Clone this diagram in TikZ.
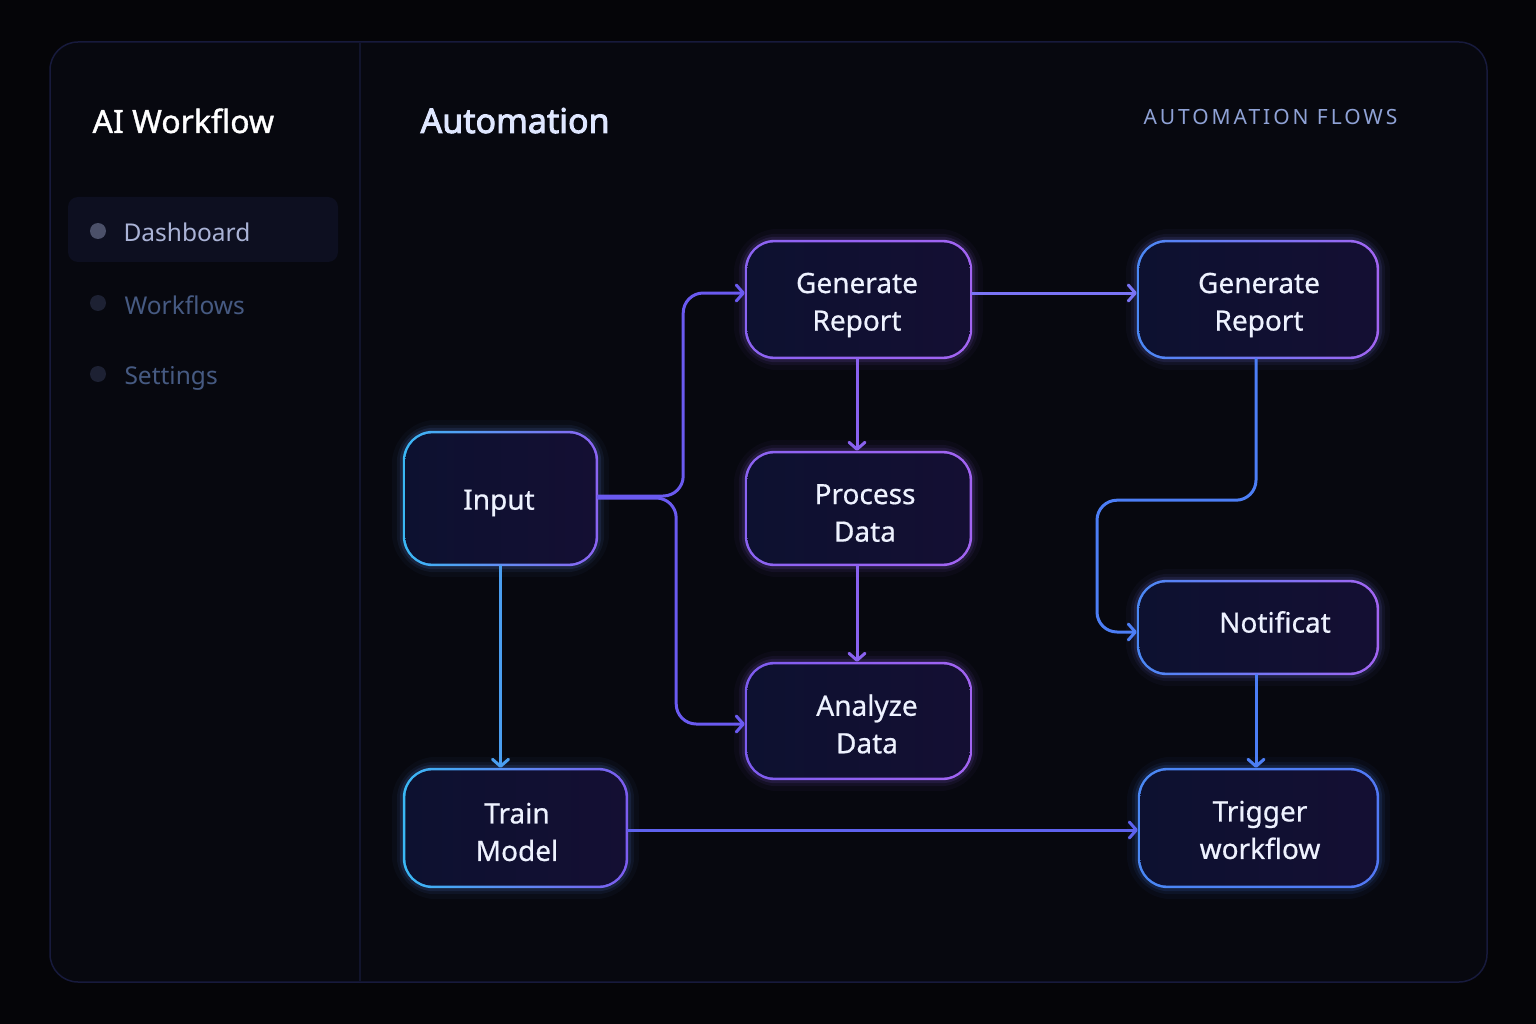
\documentclass[tikz,border=0pt]{standalone}
\usepackage{fontspec}
\setmainfont{Noto Sans}
\usetikzlibrary{arrows.meta,backgrounds}
\pgfdeclarelayer{glow}
\pgfsetlayers{background,glow,main}
\definecolor{bgc}{HTML}{050508}
\definecolor{panelc}{HTML}{07080F}
\definecolor{panelb}{HTML}{171A3C}
\definecolor{divc}{HTML}{11142C}
\definecolor{hlc}{HTML}{0D0F20}
\definecolor{boxL}{HTML}{0D1130}
\definecolor{boxR}{HTML}{140F33}
\definecolor{txt}{HTML}{EEF2FF}
\definecolor{cyanb}{HTML}{3AB8F5}
\definecolor{blueb}{HTML}{4A88F5}
\definecolor{blueb2}{HTML}{5278F5}
\definecolor{purpb}{HTML}{8B63F2}
\definecolor{purpb2}{HTML}{A264F2}
\definecolor{violb}{HTML}{7D5CF0}
\definecolor{cIndigo}{HTML}{6A5AF0}
\definecolor{cPurple}{HTML}{8A62F0}
\definecolor{cBlue}{HTML}{4C7EF5}
\definecolor{cCyan}{HTML}{4A9EF0}
\definecolor{cMid}{HTML}{5E62EE}
\definecolor{cGrad}{HTML}{7A74F5}
\newcommand\glowbox[3]{%
  \begin{pgfonlayer}{background}
    \draw[line width=22pt, draw=#2!50!#3, opacity=0.04, rounded corners=34pt]
      (#1.south west) rectangle (#1.north east);
    \draw[line width=12pt, draw=#2!50!#3, opacity=0.07, rounded corners=32pt]
      (#1.south west) rectangle (#1.north east);
    \draw[line width=6pt, draw=#2!50!#3, opacity=0.12, rounded corners=31pt]
      (#1.south west) rectangle (#1.north east);
    \shade[left color=#2, right color=#3, rounded corners=30pt]
      (#1.south west) rectangle (#1.north east);
    \shade[left color=boxL, right color=boxR, rounded corners=27.5pt]
      ([xshift=2.5pt,yshift=2.5pt]#1.south west) rectangle ([xshift=-2.5pt,yshift=-2.5pt]#1.north east);
  \end{pgfonlayer}}
\begin{document}
\begin{tikzpicture}[x=1pt,y=-1pt,
  box/.style={inner sep=0pt},
  lbl/.style={inner sep=0pt, align=center, text=txt, font=\fontsize{28}{37.5}\selectfont\addfontfeatures{FakeBold=0.6}},
  conn/.style={line width=3pt, rounded corners=20pt, line cap=round,
    -{Straight Barb[length=7pt,width=16pt,line cap=round,line join=round]}},
  side/.style={anchor=base west, font=\fontsize{24.5}{30}\selectfont},
  dot/.style={circle, inner sep=0pt, minimum size=16pt}
]
\useasboundingbox (0,0) rectangle (1536,1024);
\begin{pgfonlayer}{background}
  \fill[bgc] (0,0) rectangle (1536,1024);
  \draw[panelb, line width=1.5pt, fill=panelc, rounded corners=28pt] (50,42) rectangle (1487,982);
  \draw[divc, line width=1.2pt] (360,43) -- (360,981);
  \fill[hlc, rounded corners=10pt] (68,197) rectangle (338,262);
\end{pgfonlayer}

% sidebar
\node[anchor=base west, text=white, font=\fontsize{32}{38}\selectfont\addfontfeatures{FakeBold=1.2}] (t1) at (89,133) {AI Workflow};
\node[dot, fill={rgb,255:red,75;green,80;blue,105}] (d1) at (98,231) {};
\node[side, text={rgb,255:red,170;green,179;blue,214}] (s1) at (120,242) {Dashboard};
\node[dot, fill={rgb,255:red,29;green,33;blue,51}] (d2) at (98,303) {};
\node[side, text={rgb,255:red,70;green,90;blue,130}] (s2) at (121,314) {Workflows};
\node[dot, fill={rgb,255:red,29;green,33;blue,51}] (d3) at (98,374) {};
\node[side, text={rgb,255:red,70;green,90;blue,130}] (s3) at (121,384) {Settings};

% header
\node[anchor=base west, text={rgb,255:red,223;green,231;blue,255}, font=\fontsize{34}{40}\selectfont\addfontfeatures{FakeBold=2.6}] (t2) at (417,133) {Automation};
\node[anchor=base west, text={rgb,255:red,143;green,162;blue,214}, font=\fontsize{21}{26}\selectfont\addfontfeatures{LetterSpace=14}] (t3) at (1140,125) {AUTOMATION FLOWS};

% boxes
\node[box, minimum width=195pt, minimum height=135pt] (in) at (500.5,498.5) {};
\node[box, minimum width=227pt, minimum height=119pt] (gr1) at (858.5,299.5) {};
\node[box, minimum width=227pt, minimum height=115pt] (pd) at (858.5,508.5) {};
\node[box, minimum width=227pt, minimum height=118pt] (an) at (858.5,721) {};
\node[box, minimum width=225pt, minimum height=120pt] (tm) at (515.5,828) {};
\node[box, minimum width=242pt, minimum height=119pt] (gr2) at (1258,299.5) {};
\node[box, minimum width=242pt, minimum height=95pt] (nt) at (1258,627.5) {};
\node[box, minimum width=241pt, minimum height=120pt] (tw) at (1258.5,828) {};

% labels
\node[lbl] (in-t) at (499,503) {Input};
\node[lbl] (gr1-t) at (857,305) {Generate\\Report};
\node[lbl] (pd-t) at (865,513) {Process\\Data};
\node[lbl] (an-t) at (867,724) {Analyze\\Data};
\node[lbl] (tm-t) at (517,832) {Train\\Model};
\node[lbl] (gr2-t) at (1259,305) {Generate\\Report};
\node[lbl] (nt-t) at (1275,622) {Notificat};
\node[lbl] (tw-t) at (1260,830) {Trigger\\workflow};

\glowbox{in}{cyanb}{purpb}
\glowbox{gr1}{purpb}{purpb2}
\glowbox{pd}{purpb}{purpb2}
\glowbox{an}{violb}{purpb2}
\glowbox{tm}{cyanb}{violb}
\glowbox{gr2}{blueb}{purpb2}
\glowbox{nt}{blueb}{purpb2}
\glowbox{tw}{blueb}{blueb2}

% connectors
\draw[conn, cIndigo] ([yshift=2.5pt]in.east) -- ++(85,0) |- ([yshift=6.5pt]gr1.west);
\draw[conn, cIndigo] ([yshift=0.5pt]in.east) -- ++(78,0) |- ([yshift=-3pt]an.west);
\draw[conn, cPurple] ([xshift=-1.5pt]gr1.south) -- ([xshift=-1.5pt]pd.north);
\draw[conn, cPurple] ([xshift=-1.5pt]pd.south) -- ([xshift=-1.5pt]an.north);
\draw[conn, cGrad] ([yshift=6.5pt]gr1.east) -- ([yshift=6.5pt]gr2.west);
\draw[conn, cBlue] ([xshift=-2pt]gr2.south) -- ++(0,141) -- ++(-159,0) |- ([yshift=-4.5pt]nt.west);
\draw[conn, cBlue] ([xshift=-2pt]nt.south) -- ([xshift=-2pt]nt.south |- tw.north);
\draw[conn, cCyan] (in.south) -- (in.south |- tm.north);
\draw[conn, cMid] ([yshift=-2pt]tm.east) -- ([yshift=-2pt]tw.west);
\end{tikzpicture}
\end{document}
